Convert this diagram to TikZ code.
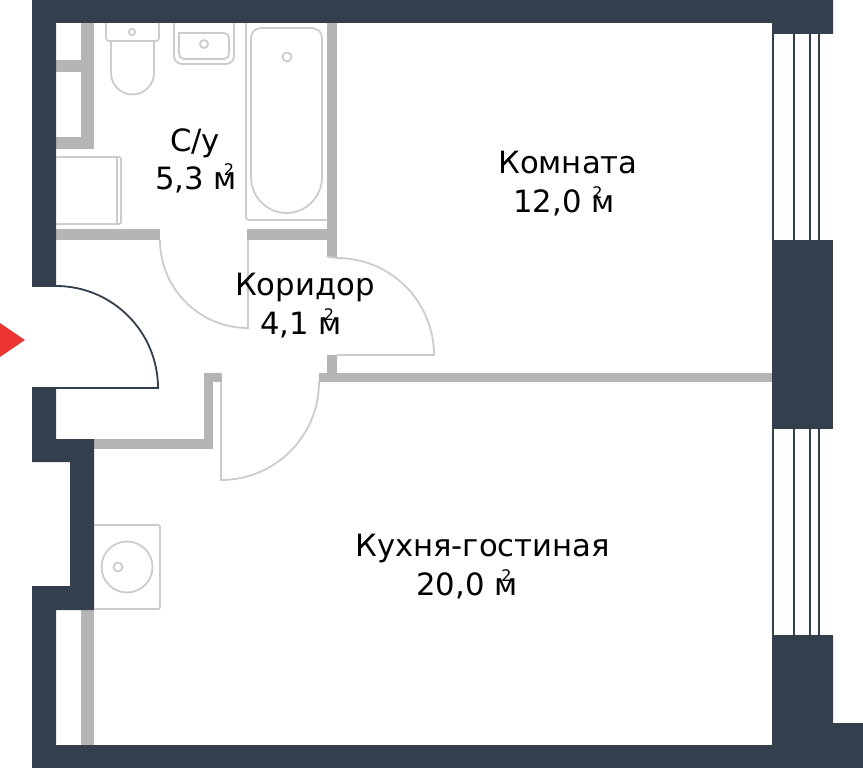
\documentclass[tikz,border=0pt]{standalone}
\usepackage{fontspec}
\setmainfont{DejaVu Sans}
\definecolor{wallblue}{HTML}{333F4C}
\definecolor{wallgrey}{HTML}{B5B5B5}
\definecolor{linegrey}{HTML}{CCCCCC}
\definecolor{arrowred}{HTML}{EE3333}
\newcommand{\sqm}[1]{м\llap{\raisebox{13.5pt}{\fontsize{16}{16}\selectfont 2\kern#1pt}}}
\tikzset{
  outerwall/.style={fill=wallblue},
  innerwall/.style={fill=wallgrey},
  fixture/.style={draw=linegrey, line width=1.8pt},
  entrydoor/.style={draw=wallblue, line width=1.8pt},
  glass/.style={draw=wallblue, line width=1.8pt},
  label/.style={anchor=base west, inner sep=0pt, font=\fontsize{30.7}{30.7}\selectfont}
}
\begin{document}
\begin{tikzpicture}[x=1pt, y=-1pt]
  \useasboundingbox (0,0) rectangle (863,768);
  % inner walls
  \fill[innerwall] (81,23) rectangle (94,149);
  \fill[innerwall] (56,60) rectangle (94,72);
  \fill[innerwall] (56,137) rectangle (94,149);
  \fill[innerwall] (56,229) rectangle (160,240);
  \fill[innerwall] (247,229) rectangle (337,240);
  \fill[innerwall] (327,23) rectangle (337,257);
  \fill[innerwall] (327,355) rectangle (337,382);
  \fill[innerwall] (319,373) rectangle (772,382);
  \fill[innerwall] (204,373) rectangle (222,382);
  \fill[innerwall] (204,373) rectangle (213,449);
  \fill[innerwall] (94,439) rectangle (213,449);
  \fill[innerwall] (81,610) rectangle (94,745);
  % outer walls
  \fill[outerwall] (32,0) -- (833,0) -- (833,34) -- (772,34) -- (772,23) -- (56,23) -- (56,285) -- (32,285) -- cycle;
  \fill[outerwall] (32,388) -- (56,388) -- (56,439) -- (94,439) -- (94,610) -- (56,610) -- (56,745) -- (772,745) -- (772,635) -- (833,635) -- (833,723) -- (863,723) -- (863,768) -- (32,768) -- (32,586) -- (70,586) -- (70,462) -- (32,462) -- cycle;
  \fill[outerwall] (772,240) rectangle (833,429);
  % windows
  \foreach \x in {773,794,810,819} {
    \draw[glass] (\x,34) -- (\x,240);
    \draw[glass] (\x,429) -- (\x,635);
  }
  % doors
  \draw[entrydoor] (32,286) -- (56,286) arc[start angle=-90, end angle=0, radius=102] -- (32,388);
  \draw[fixture] (160,240) arc[start angle=180, end angle=90, radius=88] -- (248,240);
  \draw[fixture] (328,257) -- (337,258) arc[start angle=-90, end angle=0, radius=97] -- (337,355);
  \draw[fixture] (221,382) -- (221,480) arc[start angle=90, end angle=0, radius=98];
  % toilet
  \draw[fixture, rounded corners=3pt] (106,23) -- (106,41) -- (159,41) -- (159,23);
  \draw[fixture] (111,41) -- (111,73) arc[start angle=180, end angle=0, radius=21.5] -- (154,41);
  \draw[fixture] (132,32) circle (3.2);
  % sink
  \draw[fixture, rounded corners=8pt] (174,23) -- (174,64) -- (234,64) -- (234,23);
  \draw[fixture, rounded corners=5pt] (179,33) -- (179,59) -- (229,59) -- (229,33) [sharp corners] -- cycle;
  \draw[fixture] (204,44) circle (4);
  % bath
  \draw[fixture, rounded corners=3pt] (246,23) -- (246,220) -- (327,220);
  \draw[fixture, rounded corners=10pt] (287,28) -- (322,28) -- (322,100) [sharp corners] -- (322,177) arc[start angle=0, end angle=180, x radius=35.5, y radius=36] -- (251,100) [rounded corners=10pt] -- (251,28) -- cycle;
  \draw[fixture] (287,57) circle (4.5);
  % washer
  \draw[fixture, rounded corners=2pt] (56,157) -- (121,157) -- (121,224) -- (56,224);
  \draw[fixture] (117,157) -- (117,224);
  % kitchen sink
  \draw[fixture, rounded corners=2pt] (94,525) -- (160,525) -- (160,609) -- (94,609);
  \draw[fixture] (127,567) circle (25.5);
  \draw[fixture] (118,567) circle (4.5);
  % entrance
  \fill[arrowred] (0,323) -- (25,340) -- (0,357) -- cycle;
  % labels
  \node[label] (bathname) at (170,151) {С/у};
  \node[label] (batharea) at (155,189) {5,3 \sqm{3}};
  \node[label] (roomname) at (498,173) {Комната};
  \node[label] (roomarea) at (513,212) {12,0 \sqm{12}};
  \node[label] (hallname) at (235,295) {Коридор};
  \node[label] (hallarea) at (260,334) {4,1 \sqm{8}};
  \node[label] (kitchenname) at (355,556) {Кухня-гостиная};
  \node[label] (kitchenarea) at (416,595) {20,0 \sqm{6}};
\end{tikzpicture}
\end{document}
